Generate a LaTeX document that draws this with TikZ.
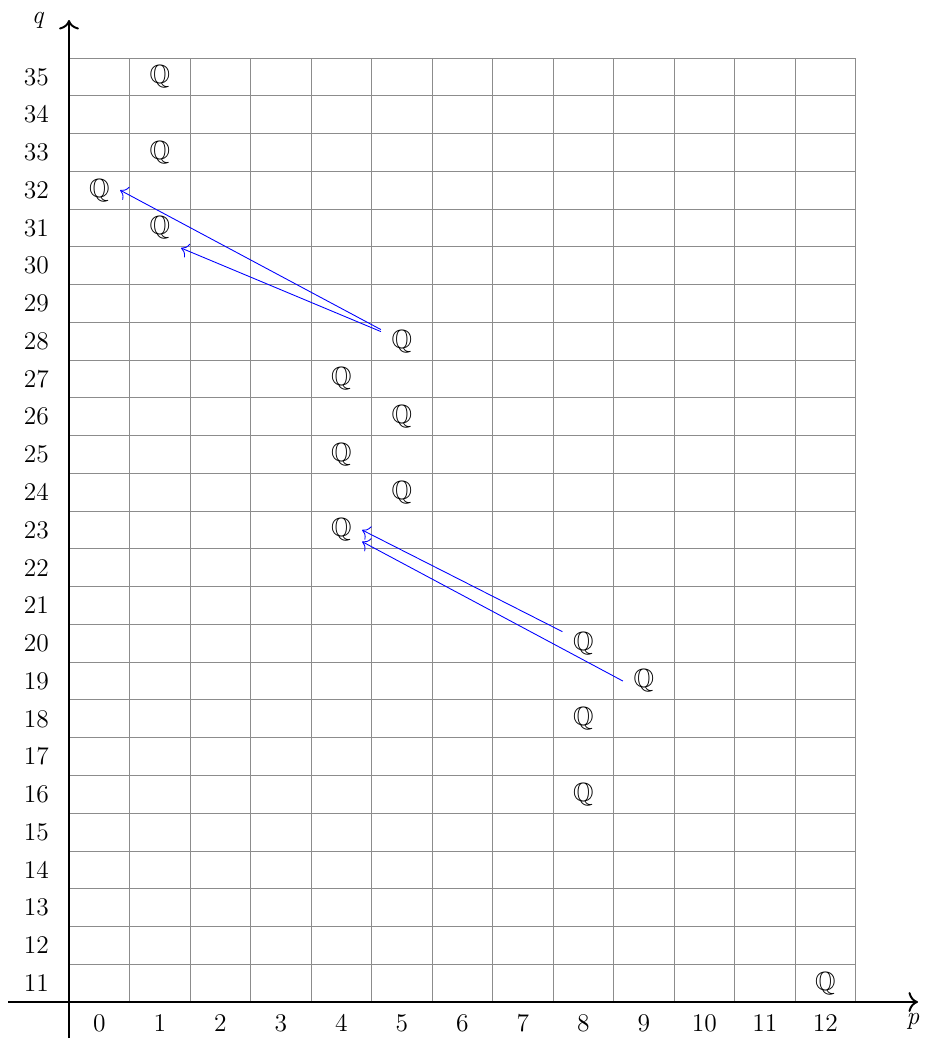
\documentclass[tikz,border=0pt]{standalone}
\usepackage{amssymb}
\usepackage{fontspec}
\usetikzlibrary{arrows.meta,calc}
\begin{document}
\begin{tikzpicture}[x=0.02cm,y=-0.02cm,
  gridline/.style={draw=black!45,line width=0.5pt},
  axisline/.style={line width=1.1pt,-{To[scale=1.35]}},
  lbl/.style={font=\fontsize{14.5}{17}\selectfont},
  qnode/.style={inner sep=0pt,minimum width=0.82cm,minimum height=0.42cm,font=\fontsize{15}{18}\selectfont},
  diff/.style={draw=blue,line width=0.5pt,-{To[scale=1.5]}}]
\useasboundingbox (0,0) rectangle (925,1041);
% grid
\foreach \k in {1,...,13} \draw[gridline] ({69+\k*60.5},58) -- ({69+\k*60.5},1002);
\foreach \j in {0,...,24} \draw[gridline] (69,{58+\j*37.76}) -- (855,{58+\j*37.76});
% axes
\coordinate (xs) at (8,1002);
\coordinate (xe) at (918,1002);
\coordinate (ys) at (69,1038);
\coordinate (ye) at (69,20);
\draw[axisline] (xs) -- (xe);
\draw[axisline] (ys) -- (ye);
\node[lbl] (qlab) at (38,20) {\textit{q}};
\node[lbl] (plab) at (913,1021) {\textit{p}};
% labels
\foreach \q in {11,...,35} \node[lbl,anchor=east] (r\q) at (55,{58+(35.5-\q)*37.76}) {\q};
\foreach \p in {0,...,12} \node[lbl] (c\p) at ({69+(\p+0.5)*60.5},1023) {\p};
% Q entries
\foreach \p/\q in {1/35,1/33,0/32,1/31,5/28,4/27,5/26,4/25,5/24,4/23,8/20,9/19,8/18,8/16,12/11}
  \node[qnode] (Q\p-\q) at ({69+(\p+0.5)*60.5},{58+(35.5-\q)*37.76}) {$\mathbb{Q}$};
% differentials
\coordinate (t31) at (181,248);
\draw[diff] (Q5-28.north west) -- (Q0-32.east);
\draw[diff] ($(Q5-28.north west)+(0,2)$) -- (t31);
\draw[diff] (Q8-20.north west) -- (Q4-23.east);
\draw[diff] (Q9-19.west) -- (Q4-23.south east);
\end{tikzpicture}
\end{document}
